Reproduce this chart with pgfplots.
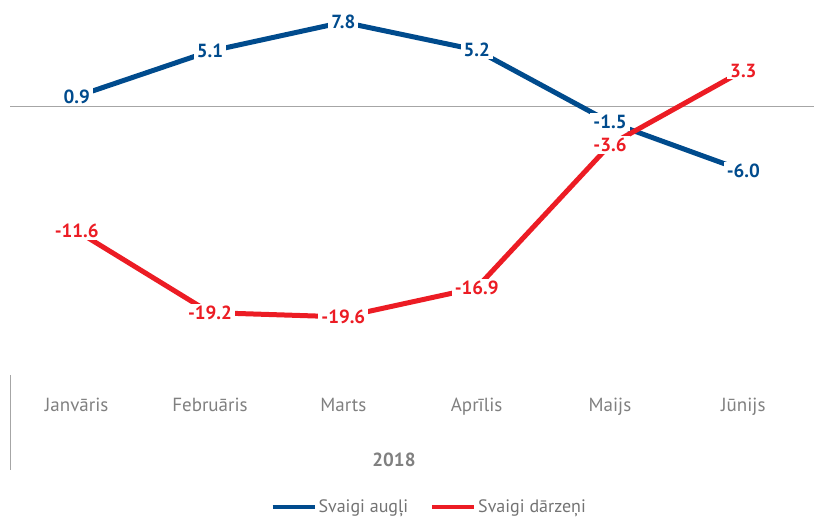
\documentclass[border=0pt]{standalone}
\usepackage{fontspec}
\setmainfont{PT Sans}
\usepackage{pgfplots}
\pgfplotsset{compat=1.18}
\definecolor{cblue}{HTML}{004B8D}
\definecolor{cred}{HTML}{EC1C24}
\definecolor{tgray}{HTML}{808080}
\definecolor{lgray}{HTML}{A6A6A6}
\begin{document}
\begin{tikzpicture}[x=1pt,y=1pt]
\useasboundingbox (0,0) rectangle (814,518);
\begin{axis}[
  at={(10pt,143pt)}, anchor=south west,
  width=800pt, height=375pt, scale only axis,
  xmin=-0.5, xmax=5.5, ymin=-25, ymax=9.86,
  axis lines=none, clip=false,
  ytick=\empty,
  xtick={0,...,5},
  xticklabels={Janvāris,Februāris,Marts,Aprīlis,Maijs,Jūnijs},
  xticklabel style={anchor=base, yshift=-37pt, text=tgray, font=\fontsize{19}{22}\selectfont},
  hide x axis=false,
  x axis line style={draw=none},
  major tick length=0pt,
  legend style={at={(axis description cs:0.524,-0.352)}, anchor=center, draw=none, fill=none,
    font=\fontsize{18}{21}\selectfont, text=tgray!90!black, legend columns=2,
    /tikz/every even column/.append style={column sep=20pt}},
  legend image code/.code={\draw[#1, line width=4pt] (0pt,0pt) -- (42pt,0pt);},
  nodes near coords, point meta=explicit symbolic,
  every node near coord/.append style={anchor=center, fill=white, inner xsep=3pt, inner ysep=2pt,
    font=\bfseries\fontsize{19}{22}\selectfont},
]
\draw[lgray, line width=1pt] (axis cs:-0.5,0) -- (axis cs:5.53,0);
\draw[lgray, line width=1pt] (rel axis cs:0,0) -- ([yshift=-95pt]rel axis cs:0,0);
\node[anchor=base, text=tgray, font=\bfseries\fontsize{19}{22}\selectfont] at ([yshift=-92pt]rel axis cs:0.48,0) {2018};
\addplot[cblue, line width=5pt, line join=round, every node near coord/.append style={text=cblue}]
  coordinates {(0,0.9)[0.9] (1,5.1)[5.1] (2,7.8)[7.8] (3,5.2)[5.2] (4,-1.5)[-1.5] (5,-6.0)[-6.0]};
\addlegendentry{Svaigi augļi}
\addplot[cred, line width=5pt, line join=round, every node near coord/.append style={text=cred}]
  coordinates {(0,-11.6)[-11.6] (1,-19.2)[-19.2] (2,-19.6)[-19.6] (3,-16.9)[-16.9] (4,-3.6)[-3.6] (5,3.3)[3.3]};
\addlegendentry{Svaigi dārzeņi}
\end{axis}
\end{tikzpicture}
\end{document}
